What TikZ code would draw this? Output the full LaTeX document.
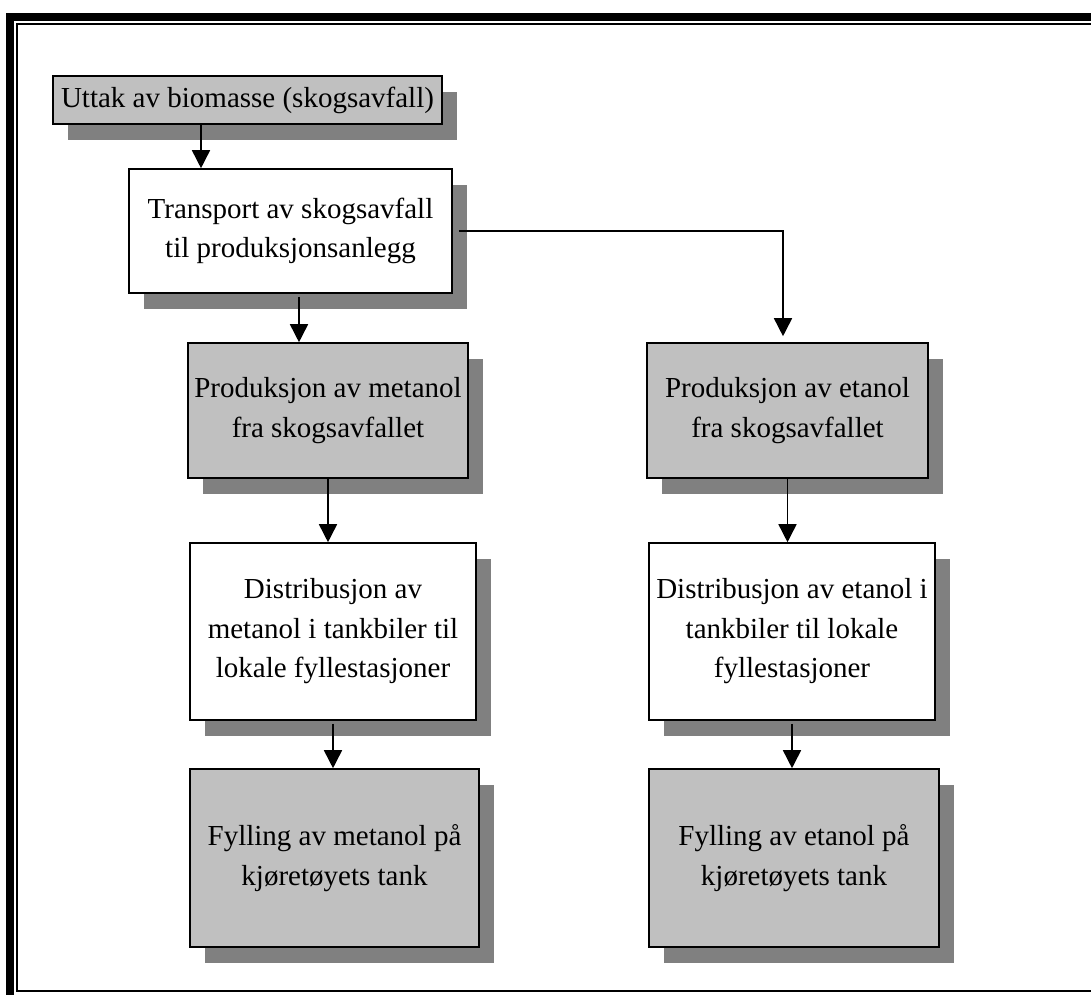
\documentclass[tikz,border=0pt]{standalone}
\usepackage{fontspec}
\setmainfont{Liberation Serif}
\usepackage{tikz}
\usetikzlibrary{positioning,arrows.meta,calc,shadows}
\definecolor{boxgrey}{HTML}{C0C0C0}
\definecolor{shadegrey}{HTML}{808080}

\begin{document}
\begin{tikzpicture}[
  x=1pt, y=-1pt,
  >={Triangle[width=18pt,length=18pt]},
  block/.style={draw, line width=1.6pt, inner sep=0pt, align=center, font=\fontsize{29}{39.5}\selectfont,
    drop shadow={shadow xshift=15pt, shadow yshift=-16pt, fill=shadegrey, opacity=1}},
  greyblock/.style={block, fill=boxgrey},
  whiteblock/.style={block, fill=white},
  link/.style={->, line width=1.6pt}
]
\useasboundingbox (0,0) rectangle (1091,994);
\clip (0,0) rectangle (1091,994);

\draw[line width=8pt] (10,17) rectangle (1130,1040);
\draw[line width=2.4pt] (16.7,23.7) rectangle (1110,990.7);

\node[greyblock, minimum width=389pt, minimum height=48pt] (uttak) at (247.5,100) {Uttak av biomasse (skogsavfall)};
\node[whiteblock, minimum width=323pt, minimum height=124pt] (transport) at (290.5,231) {Transport av skogsavfall\\til produksjonsanlegg};

\node[greyblock, minimum width=280pt, minimum height=135pt] (prodM) at (328,410.5) {Produksjon av metanol\\fra skogsavfallet};
\node[greyblock, minimum width=281pt, minimum height=135pt] (prodE) at (787.5,410.5) {Produksjon av etanol\\fra skogsavfallet};

\node[whiteblock, minimum width=286pt, minimum height=177pt] (distM) at (333,631.5) {Distribusjon av\\metanol i tankbiler til\\lokale fyllestasjoner};
\node[whiteblock, minimum width=286pt, minimum height=177pt] (distE) at (792,631.5) {Distribusjon av etanol i\\tankbiler til lokale\\fyllestasjoner};

\node[greyblock, minimum width=289pt, minimum height=178pt] (fyllM) at (334.5,858) {Fylling av metanol på\\kjøretøyets tank};
\node[greyblock, minimum width=290pt, minimum height=178pt] (fyllE) at (794,858) {Fylling av etanol på\\kjøretøyets tank};

\draw[link] ([xshift=-46.5pt]uttak.south) -- ([xshift=-46.5pt]uttak.south |- transport.north);
\draw[link, shorten <=3pt] ([xshift=8.5pt]transport.south) -- ([xshift=8.5pt]transport.south |- prodM.north);
\draw[link, shorten <=6pt, shorten >=6pt] (transport.east) -| ([xshift=-4.5pt]prodE.north);

\draw[link] (prodM.south) -- (prodM.south |- distM.north);
\draw[link] (prodE.south) -- (prodE.south |- distE.north);
\draw[link, shorten <=3pt] (distM.south) -- (distM.south |- fyllM.north);
\draw[link, shorten <=3pt] (distE.south) -- (distE.south |- fyllE.north);
\end{tikzpicture}
\end{document}
